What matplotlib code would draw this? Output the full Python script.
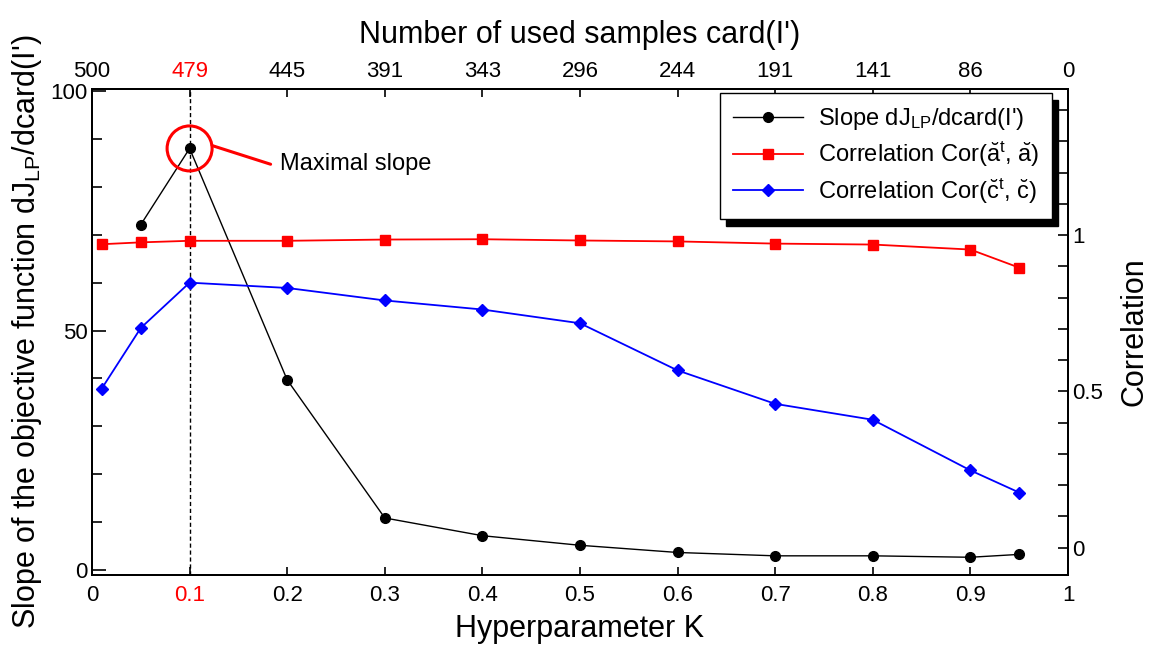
import matplotlib
matplotlib.use("Agg")
import matplotlib.pyplot as plt
from matplotlib.patches import Ellipse
from matplotlib.ticker import MultipleLocator

plt.rcParams["font.family"] = ["Liberation Sans", "DejaVu Sans"]
plt.rcParams["mathtext.fontset"] = "custom"
plt.rcParams["mathtext.rm"] = "Liberation Sans"
plt.rcParams["mathtext.it"] = "Liberation Sans:italic"

# hyperparameter K for each series
k_slope = [0.05, 0.1, 0.2, 0.3, 0.4, 0.5, 0.6, 0.7, 0.8, 0.9, 0.95]
k_corr = [0.01, 0.05, 0.1, 0.2, 0.3, 0.4, 0.5, 0.6, 0.7, 0.8, 0.9, 0.95]

slope = [72.1, 88.0, 39.7, 10.9, 7.2, 5.2, 3.7, 3.0, 3.0, 2.7, 3.3]
corr_a = [0.971, 0.977, 0.982, 0.982, 0.986, 0.987, 0.983, 0.980, 0.973, 0.970, 0.954, 0.896]
corr_c = [0.509, 0.703, 0.848, 0.831, 0.791, 0.762, 0.718, 0.567, 0.460, 0.409, 0.247, 0.176]

k_ticks = [0, 0.1, 0.2, 0.3, 0.4, 0.5, 0.6, 0.7, 0.8, 0.9, 1]
k_labels = ["0", "0.1", "0.2", "0.3", "0.4", "0.5", "0.6", "0.7", "0.8", "0.9", "1"]
n_samples = ["500", "479", "445", "391", "343", "296", "244", "191", "141", "86", "0"]

best_k = 0.1
best_slope = 88.0

fig = plt.figure(figsize=(11.55, 6.49), dpi=100)
ax = fig.add_axes([92 / 1155, 1 - 575 / 649, (1068 - 92) / 1155, (575 - 89) / 649])
ax2 = ax.twinx()

ax.set_xlim(0, 1)
ax.set_ylim(-1.0, 100.4)
ax2.set_ylim(-0.088, 1.468)

ax.axvline(best_k, color="black", lw=1.0, ls=(0, (3, 2)), zorder=1)

l1, = ax.plot(k_slope, slope, color="black", lw=1.0, marker="o", ms=7, zorder=3,
              label=r"Slope dJ$_{\mathrm{LP}}$/dcard(I')")
l2, = ax2.plot(k_corr, corr_a, color="red", lw=1.3, marker="s", ms=7.5, zorder=3,
               label=r"Correlation Cor($\mathrm{\breve{a}}^{\mathrm{t}}$, $\mathrm{\breve{a}}$)")
l3, = ax2.plot(k_corr, corr_c, color="blue", lw=1.3, marker="D", ms=6, zorder=3,
               label=r"Correlation Cor($\mathrm{\breve{c}}^{\mathrm{t}}$, $\mathrm{\breve{c}}$)")

# red circle around the maximal slope, sized in pixels
px_to_x = 1.0 / 976
px_to_y = 101.4 / 486
ax.add_patch(Ellipse((best_k, best_slope), 45 * px_to_x, 45 * px_to_y, fill=False,
                     ec="red", lw=2.2, zorder=4))
ax.annotate("", xy=(best_k + 22.5 * px_to_x, best_slope + 0.6), xytext=(0.183, best_slope - 3.3),
            arrowprops=dict(arrowstyle="-", color="red", lw=2.2, shrinkA=0, shrinkB=0))
ax.text(0.193, best_slope - 3.3, "Maximal slope", fontsize=17, va="center", ha="left")

ax.set_xticks(k_ticks)
ax.set_xticklabels(k_labels)
ax.set_yticks([0, 50, 100])
ax.yaxis.set_minor_locator(MultipleLocator(10))
ax2.set_yticks([0, 0.5, 1])
ax2.set_yticklabels(["0", "0.5", "1"])
ax2.yaxis.set_minor_locator(MultipleLocator(0.1))

ax.tick_params(axis="x", direction="in", length=6, width=1.2, labelsize=16, pad=7)
ax.tick_params(axis="y", which="major", direction="in", length=10, width=1.2, labelsize=16, pad=3)
ax.tick_params(axis="y", which="minor", direction="in", length=7, width=1.2)
ax2.tick_params(axis="y", which="major", direction="in", length=7, width=1.2, labelsize=16, pad=3)
ax2.tick_params(axis="y", which="minor", direction="in", length=7, width=1.2)

top = ax.secondary_xaxis("top")
top.set_xticks(k_ticks)
top.set_xticklabels(n_samples)
top.tick_params(direction="in", length=6, width=1.2, labelsize=16, pad=5)
top.set_xlabel("Number of used samples card(I')", fontsize=22, labelpad=13)

for lab in ax.get_xticklabels():
    if lab.get_text() == "0.1":
        lab.set_color("red")
for lab in top.get_xticklabels():
    if lab.get_text() == "479":
        lab.set_color("red")

for a in (ax, ax2):
    for sp in a.spines.values():
        sp.set_linewidth(1.4)
for sp in top.spines.values():
    sp.set_linewidth(1.4)

ax.set_xlabel("Hyperparameter K", fontsize=22, labelpad=6)
ax.set_ylabel(r"Slope of the objective function dJ$_{\mathrm{LP}}$/dcard(I')", fontsize=22, labelpad=5)
ax2.set_ylabel("Correlation", fontsize=22, labelpad=12)

leg = ax2.legend(handles=[l1, l2, l3], loc="upper right", bbox_to_anchor=(1052 / 1155, 1 - 93 / 649),
                 bbox_transform=fig.transFigure, borderaxespad=0, fontsize=17, handlelength=3.0,
                 handletextpad=0.6, labelspacing=0.32, borderpad=0.55, fancybox=False,
                 framealpha=1, edgecolor="black",
                 shadow={"ox": 4.3, "oy": -5, "facecolor": "black", "edgecolor": "black", "alpha": 1})
leg.get_frame().set_linewidth(1.0)
leg.set_zorder(10)

fig.savefig("out.png", dpi=100)
